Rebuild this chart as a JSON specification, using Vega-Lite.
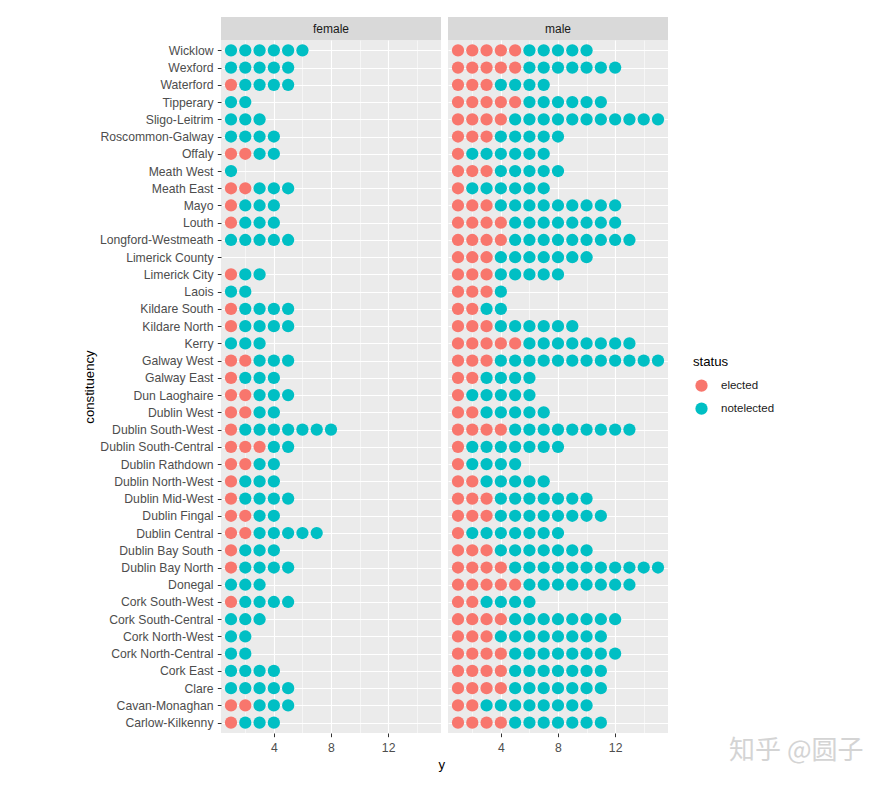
{
"$schema":"https://vega.github.io/schema/vega-lite/v6.json",
"padding":{"left":82,"top":17,"right":5,"bottom":5},
"background":"white",
"config":{"font":"Liberation Sans","view":{"stroke":null},
 "axis":{"labelColor":"#4D4D4D","labelFontSize":12.2,"tickColor":"#333333","tickSize":3.7,"domain":false,"gridColor":"#FFFFFF","labelPadding":4.3},
 "legend":{"titleFontSize":13.2,"titleFontWeight":"normal","titleColor":"#000000","labelFontSize":11.5,"labelColor":"#1A1A1A"}},
"title":{"text":"y","orient":"bottom","anchor":"middle","fontSize":13.2,"fontWeight":"normal","color":"#000000","offset":-4,"dx":-31},
"datasets":{
"female":[
{"c":"Wicklow","y":1,"s":"notelected"},{"c":"Wicklow","y":2,"s":"notelected"},{"c":"Wicklow","y":3,"s":"notelected"},{"c":"Wicklow","y":4,"s":"notelected"},{"c":"Wicklow","y":5,"s":"notelected"},{"c":"Wicklow","y":6,"s":"notelected"},
{"c":"Wexford","y":1,"s":"notelected"},{"c":"Wexford","y":2,"s":"notelected"},{"c":"Wexford","y":3,"s":"notelected"},{"c":"Wexford","y":4,"s":"notelected"},{"c":"Wexford","y":5,"s":"notelected"},
{"c":"Waterford","y":1,"s":"elected"},{"c":"Waterford","y":2,"s":"notelected"},{"c":"Waterford","y":3,"s":"notelected"},{"c":"Waterford","y":4,"s":"notelected"},{"c":"Waterford","y":5,"s":"notelected"},
{"c":"Tipperary","y":1,"s":"notelected"},{"c":"Tipperary","y":2,"s":"notelected"},
{"c":"Sligo-Leitrim","y":1,"s":"notelected"},{"c":"Sligo-Leitrim","y":2,"s":"notelected"},{"c":"Sligo-Leitrim","y":3,"s":"notelected"},
{"c":"Roscommon-Galway","y":1,"s":"notelected"},{"c":"Roscommon-Galway","y":2,"s":"notelected"},{"c":"Roscommon-Galway","y":3,"s":"notelected"},{"c":"Roscommon-Galway","y":4,"s":"notelected"},
{"c":"Offaly","y":1,"s":"elected"},{"c":"Offaly","y":2,"s":"elected"},{"c":"Offaly","y":3,"s":"notelected"},{"c":"Offaly","y":4,"s":"notelected"},
{"c":"Meath West","y":1,"s":"notelected"},
{"c":"Meath East","y":1,"s":"elected"},{"c":"Meath East","y":2,"s":"elected"},{"c":"Meath East","y":3,"s":"notelected"},{"c":"Meath East","y":4,"s":"notelected"},{"c":"Meath East","y":5,"s":"notelected"},
{"c":"Mayo","y":1,"s":"elected"},{"c":"Mayo","y":2,"s":"notelected"},{"c":"Mayo","y":3,"s":"notelected"},{"c":"Mayo","y":4,"s":"notelected"},
{"c":"Louth","y":1,"s":"elected"},{"c":"Louth","y":2,"s":"notelected"},{"c":"Louth","y":3,"s":"notelected"},{"c":"Louth","y":4,"s":"notelected"},
{"c":"Longford-Westmeath","y":1,"s":"notelected"},{"c":"Longford-Westmeath","y":2,"s":"notelected"},{"c":"Longford-Westmeath","y":3,"s":"notelected"},{"c":"Longford-Westmeath","y":4,"s":"notelected"},{"c":"Longford-Westmeath","y":5,"s":"notelected"},
{"c":"Limerick City","y":1,"s":"elected"},{"c":"Limerick City","y":2,"s":"notelected"},{"c":"Limerick City","y":3,"s":"notelected"},
{"c":"Laois","y":1,"s":"notelected"},{"c":"Laois","y":2,"s":"notelected"},
{"c":"Kildare South","y":1,"s":"elected"},{"c":"Kildare South","y":2,"s":"notelected"},{"c":"Kildare South","y":3,"s":"notelected"},{"c":"Kildare South","y":4,"s":"notelected"},{"c":"Kildare South","y":5,"s":"notelected"},
{"c":"Kildare North","y":1,"s":"elected"},{"c":"Kildare North","y":2,"s":"notelected"},{"c":"Kildare North","y":3,"s":"notelected"},{"c":"Kildare North","y":4,"s":"notelected"},{"c":"Kildare North","y":5,"s":"notelected"},
{"c":"Kerry","y":1,"s":"notelected"},{"c":"Kerry","y":2,"s":"notelected"},{"c":"Kerry","y":3,"s":"notelected"},
{"c":"Galway West","y":1,"s":"elected"},{"c":"Galway West","y":2,"s":"elected"},{"c":"Galway West","y":3,"s":"notelected"},{"c":"Galway West","y":4,"s":"notelected"},{"c":"Galway West","y":5,"s":"notelected"},
{"c":"Galway East","y":1,"s":"elected"},{"c":"Galway East","y":2,"s":"notelected"},{"c":"Galway East","y":3,"s":"notelected"},{"c":"Galway East","y":4,"s":"notelected"},
{"c":"Dun Laoghaire","y":1,"s":"elected"},{"c":"Dun Laoghaire","y":2,"s":"elected"},{"c":"Dun Laoghaire","y":3,"s":"notelected"},{"c":"Dun Laoghaire","y":4,"s":"notelected"},{"c":"Dun Laoghaire","y":5,"s":"notelected"},
{"c":"Dublin West","y":1,"s":"elected"},{"c":"Dublin West","y":2,"s":"elected"},{"c":"Dublin West","y":3,"s":"notelected"},{"c":"Dublin West","y":4,"s":"notelected"},
{"c":"Dublin South-West","y":1,"s":"elected"},{"c":"Dublin South-West","y":2,"s":"notelected"},{"c":"Dublin South-West","y":3,"s":"notelected"},{"c":"Dublin South-West","y":4,"s":"notelected"},{"c":"Dublin South-West","y":5,"s":"notelected"},{"c":"Dublin South-West","y":6,"s":"notelected"},{"c":"Dublin South-West","y":7,"s":"notelected"},{"c":"Dublin South-West","y":8,"s":"notelected"},
{"c":"Dublin South-Central","y":1,"s":"elected"},{"c":"Dublin South-Central","y":2,"s":"elected"},{"c":"Dublin South-Central","y":3,"s":"elected"},{"c":"Dublin South-Central","y":4,"s":"notelected"},{"c":"Dublin South-Central","y":5,"s":"notelected"},
{"c":"Dublin Rathdown","y":1,"s":"elected"},{"c":"Dublin Rathdown","y":2,"s":"elected"},{"c":"Dublin Rathdown","y":3,"s":"notelected"},{"c":"Dublin Rathdown","y":4,"s":"notelected"},
{"c":"Dublin North-West","y":1,"s":"elected"},{"c":"Dublin North-West","y":2,"s":"notelected"},{"c":"Dublin North-West","y":3,"s":"notelected"},{"c":"Dublin North-West","y":4,"s":"notelected"},
{"c":"Dublin Mid-West","y":1,"s":"elected"},{"c":"Dublin Mid-West","y":2,"s":"notelected"},{"c":"Dublin Mid-West","y":3,"s":"notelected"},{"c":"Dublin Mid-West","y":4,"s":"notelected"},{"c":"Dublin Mid-West","y":5,"s":"notelected"},
{"c":"Dublin Fingal","y":1,"s":"elected"},{"c":"Dublin Fingal","y":2,"s":"elected"},{"c":"Dublin Fingal","y":3,"s":"notelected"},{"c":"Dublin Fingal","y":4,"s":"notelected"},
{"c":"Dublin Central","y":1,"s":"elected"},{"c":"Dublin Central","y":2,"s":"elected"},{"c":"Dublin Central","y":3,"s":"notelected"},{"c":"Dublin Central","y":4,"s":"notelected"},{"c":"Dublin Central","y":5,"s":"notelected"},{"c":"Dublin Central","y":6,"s":"notelected"},{"c":"Dublin Central","y":7,"s":"notelected"},
{"c":"Dublin Bay South","y":1,"s":"elected"},{"c":"Dublin Bay South","y":2,"s":"notelected"},{"c":"Dublin Bay South","y":3,"s":"notelected"},{"c":"Dublin Bay South","y":4,"s":"notelected"},
{"c":"Dublin Bay North","y":1,"s":"elected"},{"c":"Dublin Bay North","y":2,"s":"notelected"},{"c":"Dublin Bay North","y":3,"s":"notelected"},{"c":"Dublin Bay North","y":4,"s":"notelected"},{"c":"Dublin Bay North","y":5,"s":"notelected"},
{"c":"Donegal","y":1,"s":"notelected"},{"c":"Donegal","y":2,"s":"notelected"},{"c":"Donegal","y":3,"s":"notelected"},
{"c":"Cork South-West","y":1,"s":"elected"},{"c":"Cork South-West","y":2,"s":"notelected"},{"c":"Cork South-West","y":3,"s":"notelected"},{"c":"Cork South-West","y":4,"s":"notelected"},{"c":"Cork South-West","y":5,"s":"notelected"},
{"c":"Cork South-Central","y":1,"s":"notelected"},{"c":"Cork South-Central","y":2,"s":"notelected"},{"c":"Cork South-Central","y":3,"s":"notelected"},
{"c":"Cork North-West","y":1,"s":"notelected"},{"c":"Cork North-West","y":2,"s":"notelected"},
{"c":"Cork North-Central","y":1,"s":"notelected"},{"c":"Cork North-Central","y":2,"s":"notelected"},
{"c":"Cork East","y":1,"s":"notelected"},{"c":"Cork East","y":2,"s":"notelected"},{"c":"Cork East","y":3,"s":"notelected"},{"c":"Cork East","y":4,"s":"notelected"},
{"c":"Clare","y":1,"s":"notelected"},{"c":"Clare","y":2,"s":"notelected"},{"c":"Clare","y":3,"s":"notelected"},{"c":"Clare","y":4,"s":"notelected"},{"c":"Clare","y":5,"s":"notelected"},
{"c":"Cavan-Monaghan","y":1,"s":"elected"},{"c":"Cavan-Monaghan","y":2,"s":"elected"},{"c":"Cavan-Monaghan","y":3,"s":"notelected"},{"c":"Cavan-Monaghan","y":4,"s":"notelected"},{"c":"Cavan-Monaghan","y":5,"s":"notelected"},
{"c":"Carlow-Kilkenny","y":1,"s":"elected"},{"c":"Carlow-Kilkenny","y":2,"s":"notelected"},{"c":"Carlow-Kilkenny","y":3,"s":"notelected"},{"c":"Carlow-Kilkenny","y":4,"s":"notelected"}
],
"male":[
{"c":"Wicklow","y":1,"s":"elected"},{"c":"Wicklow","y":2,"s":"elected"},{"c":"Wicklow","y":3,"s":"elected"},{"c":"Wicklow","y":4,"s":"elected"},{"c":"Wicklow","y":5,"s":"elected"},{"c":"Wicklow","y":6,"s":"notelected"},{"c":"Wicklow","y":7,"s":"notelected"},{"c":"Wicklow","y":8,"s":"notelected"},{"c":"Wicklow","y":9,"s":"notelected"},{"c":"Wicklow","y":10,"s":"notelected"},
{"c":"Wexford","y":1,"s":"elected"},{"c":"Wexford","y":2,"s":"elected"},{"c":"Wexford","y":3,"s":"elected"},{"c":"Wexford","y":4,"s":"elected"},{"c":"Wexford","y":5,"s":"elected"},{"c":"Wexford","y":6,"s":"notelected"},{"c":"Wexford","y":7,"s":"notelected"},{"c":"Wexford","y":8,"s":"notelected"},{"c":"Wexford","y":9,"s":"notelected"},{"c":"Wexford","y":10,"s":"notelected"},{"c":"Wexford","y":11,"s":"notelected"},{"c":"Wexford","y":12,"s":"notelected"},
{"c":"Waterford","y":1,"s":"elected"},{"c":"Waterford","y":2,"s":"elected"},{"c":"Waterford","y":3,"s":"elected"},{"c":"Waterford","y":4,"s":"notelected"},{"c":"Waterford","y":5,"s":"notelected"},{"c":"Waterford","y":6,"s":"notelected"},{"c":"Waterford","y":7,"s":"notelected"},
{"c":"Tipperary","y":1,"s":"elected"},{"c":"Tipperary","y":2,"s":"elected"},{"c":"Tipperary","y":3,"s":"elected"},{"c":"Tipperary","y":4,"s":"elected"},{"c":"Tipperary","y":5,"s":"elected"},{"c":"Tipperary","y":6,"s":"notelected"},{"c":"Tipperary","y":7,"s":"notelected"},{"c":"Tipperary","y":8,"s":"notelected"},{"c":"Tipperary","y":9,"s":"notelected"},{"c":"Tipperary","y":10,"s":"notelected"},{"c":"Tipperary","y":11,"s":"notelected"},
{"c":"Sligo-Leitrim","y":1,"s":"elected"},{"c":"Sligo-Leitrim","y":2,"s":"elected"},{"c":"Sligo-Leitrim","y":3,"s":"elected"},{"c":"Sligo-Leitrim","y":4,"s":"elected"},{"c":"Sligo-Leitrim","y":5,"s":"notelected"},{"c":"Sligo-Leitrim","y":6,"s":"notelected"},{"c":"Sligo-Leitrim","y":7,"s":"notelected"},{"c":"Sligo-Leitrim","y":8,"s":"notelected"},{"c":"Sligo-Leitrim","y":9,"s":"notelected"},{"c":"Sligo-Leitrim","y":10,"s":"notelected"},{"c":"Sligo-Leitrim","y":11,"s":"notelected"},{"c":"Sligo-Leitrim","y":12,"s":"notelected"},{"c":"Sligo-Leitrim","y":13,"s":"notelected"},{"c":"Sligo-Leitrim","y":14,"s":"notelected"},{"c":"Sligo-Leitrim","y":15,"s":"notelected"},
{"c":"Roscommon-Galway","y":1,"s":"elected"},{"c":"Roscommon-Galway","y":2,"s":"elected"},{"c":"Roscommon-Galway","y":3,"s":"elected"},{"c":"Roscommon-Galway","y":4,"s":"notelected"},{"c":"Roscommon-Galway","y":5,"s":"notelected"},{"c":"Roscommon-Galway","y":6,"s":"notelected"},{"c":"Roscommon-Galway","y":7,"s":"notelected"},{"c":"Roscommon-Galway","y":8,"s":"notelected"},
{"c":"Offaly","y":1,"s":"elected"},{"c":"Offaly","y":2,"s":"notelected"},{"c":"Offaly","y":3,"s":"notelected"},{"c":"Offaly","y":4,"s":"notelected"},{"c":"Offaly","y":5,"s":"notelected"},{"c":"Offaly","y":6,"s":"notelected"},{"c":"Offaly","y":7,"s":"notelected"},
{"c":"Meath West","y":1,"s":"elected"},{"c":"Meath West","y":2,"s":"elected"},{"c":"Meath West","y":3,"s":"elected"},{"c":"Meath West","y":4,"s":"notelected"},{"c":"Meath West","y":5,"s":"notelected"},{"c":"Meath West","y":6,"s":"notelected"},{"c":"Meath West","y":7,"s":"notelected"},{"c":"Meath West","y":8,"s":"notelected"},
{"c":"Meath East","y":1,"s":"elected"},{"c":"Meath East","y":2,"s":"notelected"},{"c":"Meath East","y":3,"s":"notelected"},{"c":"Meath East","y":4,"s":"notelected"},{"c":"Meath East","y":5,"s":"notelected"},{"c":"Meath East","y":6,"s":"notelected"},{"c":"Meath East","y":7,"s":"notelected"},
{"c":"Mayo","y":1,"s":"elected"},{"c":"Mayo","y":2,"s":"elected"},{"c":"Mayo","y":3,"s":"elected"},{"c":"Mayo","y":4,"s":"notelected"},{"c":"Mayo","y":5,"s":"notelected"},{"c":"Mayo","y":6,"s":"notelected"},{"c":"Mayo","y":7,"s":"notelected"},{"c":"Mayo","y":8,"s":"notelected"},{"c":"Mayo","y":9,"s":"notelected"},{"c":"Mayo","y":10,"s":"notelected"},{"c":"Mayo","y":11,"s":"notelected"},{"c":"Mayo","y":12,"s":"notelected"},
{"c":"Louth","y":1,"s":"elected"},{"c":"Louth","y":2,"s":"elected"},{"c":"Louth","y":3,"s":"elected"},{"c":"Louth","y":4,"s":"elected"},{"c":"Louth","y":5,"s":"notelected"},{"c":"Louth","y":6,"s":"notelected"},{"c":"Louth","y":7,"s":"notelected"},{"c":"Louth","y":8,"s":"notelected"},{"c":"Louth","y":9,"s":"notelected"},{"c":"Louth","y":10,"s":"notelected"},{"c":"Louth","y":11,"s":"notelected"},{"c":"Louth","y":12,"s":"notelected"},
{"c":"Longford-Westmeath","y":1,"s":"elected"},{"c":"Longford-Westmeath","y":2,"s":"elected"},{"c":"Longford-Westmeath","y":3,"s":"elected"},{"c":"Longford-Westmeath","y":4,"s":"elected"},{"c":"Longford-Westmeath","y":5,"s":"notelected"},{"c":"Longford-Westmeath","y":6,"s":"notelected"},{"c":"Longford-Westmeath","y":7,"s":"notelected"},{"c":"Longford-Westmeath","y":8,"s":"notelected"},{"c":"Longford-Westmeath","y":9,"s":"notelected"},{"c":"Longford-Westmeath","y":10,"s":"notelected"},{"c":"Longford-Westmeath","y":11,"s":"notelected"},{"c":"Longford-Westmeath","y":12,"s":"notelected"},{"c":"Longford-Westmeath","y":13,"s":"notelected"},
{"c":"Limerick County","y":1,"s":"elected"},{"c":"Limerick County","y":2,"s":"elected"},{"c":"Limerick County","y":3,"s":"elected"},{"c":"Limerick County","y":4,"s":"notelected"},{"c":"Limerick County","y":5,"s":"notelected"},{"c":"Limerick County","y":6,"s":"notelected"},{"c":"Limerick County","y":7,"s":"notelected"},{"c":"Limerick County","y":8,"s":"notelected"},{"c":"Limerick County","y":9,"s":"notelected"},{"c":"Limerick County","y":10,"s":"notelected"},
{"c":"Limerick City","y":1,"s":"elected"},{"c":"Limerick City","y":2,"s":"elected"},{"c":"Limerick City","y":3,"s":"elected"},{"c":"Limerick City","y":4,"s":"notelected"},{"c":"Limerick City","y":5,"s":"notelected"},{"c":"Limerick City","y":6,"s":"notelected"},{"c":"Limerick City","y":7,"s":"notelected"},{"c":"Limerick City","y":8,"s":"notelected"},
{"c":"Laois","y":1,"s":"elected"},{"c":"Laois","y":2,"s":"elected"},{"c":"Laois","y":3,"s":"elected"},{"c":"Laois","y":4,"s":"notelected"},
{"c":"Kildare South","y":1,"s":"elected"},{"c":"Kildare South","y":2,"s":"elected"},{"c":"Kildare South","y":3,"s":"notelected"},{"c":"Kildare South","y":4,"s":"notelected"},
{"c":"Kildare North","y":1,"s":"elected"},{"c":"Kildare North","y":2,"s":"elected"},{"c":"Kildare North","y":3,"s":"elected"},{"c":"Kildare North","y":4,"s":"notelected"},{"c":"Kildare North","y":5,"s":"notelected"},{"c":"Kildare North","y":6,"s":"notelected"},{"c":"Kildare North","y":7,"s":"notelected"},{"c":"Kildare North","y":8,"s":"notelected"},{"c":"Kildare North","y":9,"s":"notelected"},
{"c":"Kerry","y":1,"s":"elected"},{"c":"Kerry","y":2,"s":"elected"},{"c":"Kerry","y":3,"s":"elected"},{"c":"Kerry","y":4,"s":"elected"},{"c":"Kerry","y":5,"s":"elected"},{"c":"Kerry","y":6,"s":"notelected"},{"c":"Kerry","y":7,"s":"notelected"},{"c":"Kerry","y":8,"s":"notelected"},{"c":"Kerry","y":9,"s":"notelected"},{"c":"Kerry","y":10,"s":"notelected"},{"c":"Kerry","y":11,"s":"notelected"},{"c":"Kerry","y":12,"s":"notelected"},{"c":"Kerry","y":13,"s":"notelected"},
{"c":"Galway West","y":1,"s":"elected"},{"c":"Galway West","y":2,"s":"elected"},{"c":"Galway West","y":3,"s":"elected"},{"c":"Galway West","y":4,"s":"notelected"},{"c":"Galway West","y":5,"s":"notelected"},{"c":"Galway West","y":6,"s":"notelected"},{"c":"Galway West","y":7,"s":"notelected"},{"c":"Galway West","y":8,"s":"notelected"},{"c":"Galway West","y":9,"s":"notelected"},{"c":"Galway West","y":10,"s":"notelected"},{"c":"Galway West","y":11,"s":"notelected"},{"c":"Galway West","y":12,"s":"notelected"},{"c":"Galway West","y":13,"s":"notelected"},{"c":"Galway West","y":14,"s":"notelected"},{"c":"Galway West","y":15,"s":"notelected"},
{"c":"Galway East","y":1,"s":"elected"},{"c":"Galway East","y":2,"s":"elected"},{"c":"Galway East","y":3,"s":"notelected"},{"c":"Galway East","y":4,"s":"notelected"},{"c":"Galway East","y":5,"s":"notelected"},{"c":"Galway East","y":6,"s":"notelected"},
{"c":"Dun Laoghaire","y":1,"s":"elected"},{"c":"Dun Laoghaire","y":2,"s":"notelected"},{"c":"Dun Laoghaire","y":3,"s":"notelected"},{"c":"Dun Laoghaire","y":4,"s":"notelected"},{"c":"Dun Laoghaire","y":5,"s":"notelected"},{"c":"Dun Laoghaire","y":6,"s":"notelected"},
{"c":"Dublin West","y":1,"s":"elected"},{"c":"Dublin West","y":2,"s":"elected"},{"c":"Dublin West","y":3,"s":"notelected"},{"c":"Dublin West","y":4,"s":"notelected"},{"c":"Dublin West","y":5,"s":"notelected"},{"c":"Dublin West","y":6,"s":"notelected"},{"c":"Dublin West","y":7,"s":"notelected"},
{"c":"Dublin South-West","y":1,"s":"elected"},{"c":"Dublin South-West","y":2,"s":"elected"},{"c":"Dublin South-West","y":3,"s":"elected"},{"c":"Dublin South-West","y":4,"s":"elected"},{"c":"Dublin South-West","y":5,"s":"notelected"},{"c":"Dublin South-West","y":6,"s":"notelected"},{"c":"Dublin South-West","y":7,"s":"notelected"},{"c":"Dublin South-West","y":8,"s":"notelected"},{"c":"Dublin South-West","y":9,"s":"notelected"},{"c":"Dublin South-West","y":10,"s":"notelected"},{"c":"Dublin South-West","y":11,"s":"notelected"},{"c":"Dublin South-West","y":12,"s":"notelected"},{"c":"Dublin South-West","y":13,"s":"notelected"},
{"c":"Dublin South-Central","y":1,"s":"elected"},{"c":"Dublin South-Central","y":2,"s":"notelected"},{"c":"Dublin South-Central","y":3,"s":"notelected"},{"c":"Dublin South-Central","y":4,"s":"notelected"},{"c":"Dublin South-Central","y":5,"s":"notelected"},{"c":"Dublin South-Central","y":6,"s":"notelected"},{"c":"Dublin South-Central","y":7,"s":"notelected"},{"c":"Dublin South-Central","y":8,"s":"notelected"},
{"c":"Dublin Rathdown","y":1,"s":"elected"},{"c":"Dublin Rathdown","y":2,"s":"notelected"},{"c":"Dublin Rathdown","y":3,"s":"notelected"},{"c":"Dublin Rathdown","y":4,"s":"notelected"},{"c":"Dublin Rathdown","y":5,"s":"notelected"},
{"c":"Dublin North-West","y":1,"s":"elected"},{"c":"Dublin North-West","y":2,"s":"elected"},{"c":"Dublin North-West","y":3,"s":"notelected"},{"c":"Dublin North-West","y":4,"s":"notelected"},{"c":"Dublin North-West","y":5,"s":"notelected"},{"c":"Dublin North-West","y":6,"s":"notelected"},{"c":"Dublin North-West","y":7,"s":"notelected"},
{"c":"Dublin Mid-West","y":1,"s":"elected"},{"c":"Dublin Mid-West","y":2,"s":"elected"},{"c":"Dublin Mid-West","y":3,"s":"elected"},{"c":"Dublin Mid-West","y":4,"s":"notelected"},{"c":"Dublin Mid-West","y":5,"s":"notelected"},{"c":"Dublin Mid-West","y":6,"s":"notelected"},{"c":"Dublin Mid-West","y":7,"s":"notelected"},{"c":"Dublin Mid-West","y":8,"s":"notelected"},{"c":"Dublin Mid-West","y":9,"s":"notelected"},{"c":"Dublin Mid-West","y":10,"s":"notelected"},
{"c":"Dublin Fingal","y":1,"s":"elected"},{"c":"Dublin Fingal","y":2,"s":"elected"},{"c":"Dublin Fingal","y":3,"s":"elected"},{"c":"Dublin Fingal","y":4,"s":"notelected"},{"c":"Dublin Fingal","y":5,"s":"notelected"},{"c":"Dublin Fingal","y":6,"s":"notelected"},{"c":"Dublin Fingal","y":7,"s":"notelected"},{"c":"Dublin Fingal","y":8,"s":"notelected"},{"c":"Dublin Fingal","y":9,"s":"notelected"},{"c":"Dublin Fingal","y":10,"s":"notelected"},{"c":"Dublin Fingal","y":11,"s":"notelected"},
{"c":"Dublin Central","y":1,"s":"elected"},{"c":"Dublin Central","y":2,"s":"notelected"},{"c":"Dublin Central","y":3,"s":"notelected"},{"c":"Dublin Central","y":4,"s":"notelected"},{"c":"Dublin Central","y":5,"s":"notelected"},{"c":"Dublin Central","y":6,"s":"notelected"},{"c":"Dublin Central","y":7,"s":"notelected"},{"c":"Dublin Central","y":8,"s":"notelected"},
{"c":"Dublin Bay South","y":1,"s":"elected"},{"c":"Dublin Bay South","y":2,"s":"elected"},{"c":"Dublin Bay South","y":3,"s":"elected"},{"c":"Dublin Bay South","y":4,"s":"notelected"},{"c":"Dublin Bay South","y":5,"s":"notelected"},{"c":"Dublin Bay South","y":6,"s":"notelected"},{"c":"Dublin Bay South","y":7,"s":"notelected"},{"c":"Dublin Bay South","y":8,"s":"notelected"},{"c":"Dublin Bay South","y":9,"s":"notelected"},{"c":"Dublin Bay South","y":10,"s":"notelected"},
{"c":"Dublin Bay North","y":1,"s":"elected"},{"c":"Dublin Bay North","y":2,"s":"elected"},{"c":"Dublin Bay North","y":3,"s":"elected"},{"c":"Dublin Bay North","y":4,"s":"elected"},{"c":"Dublin Bay North","y":5,"s":"notelected"},{"c":"Dublin Bay North","y":6,"s":"notelected"},{"c":"Dublin Bay North","y":7,"s":"notelected"},{"c":"Dublin Bay North","y":8,"s":"notelected"},{"c":"Dublin Bay North","y":9,"s":"notelected"},{"c":"Dublin Bay North","y":10,"s":"notelected"},{"c":"Dublin Bay North","y":11,"s":"notelected"},{"c":"Dublin Bay North","y":12,"s":"notelected"},{"c":"Dublin Bay North","y":13,"s":"notelected"},{"c":"Dublin Bay North","y":14,"s":"notelected"},{"c":"Dublin Bay North","y":15,"s":"notelected"},
{"c":"Donegal","y":1,"s":"elected"},{"c":"Donegal","y":2,"s":"elected"},{"c":"Donegal","y":3,"s":"elected"},{"c":"Donegal","y":4,"s":"elected"},{"c":"Donegal","y":5,"s":"elected"},{"c":"Donegal","y":6,"s":"notelected"},{"c":"Donegal","y":7,"s":"notelected"},{"c":"Donegal","y":8,"s":"notelected"},{"c":"Donegal","y":9,"s":"notelected"},{"c":"Donegal","y":10,"s":"notelected"},{"c":"Donegal","y":11,"s":"notelected"},{"c":"Donegal","y":12,"s":"notelected"},{"c":"Donegal","y":13,"s":"notelected"},
{"c":"Cork South-West","y":1,"s":"elected"},{"c":"Cork South-West","y":2,"s":"elected"},{"c":"Cork South-West","y":3,"s":"notelected"},{"c":"Cork South-West","y":4,"s":"notelected"},{"c":"Cork South-West","y":5,"s":"notelected"},{"c":"Cork South-West","y":6,"s":"notelected"},
{"c":"Cork South-Central","y":1,"s":"elected"},{"c":"Cork South-Central","y":2,"s":"elected"},{"c":"Cork South-Central","y":3,"s":"elected"},{"c":"Cork South-Central","y":4,"s":"elected"},{"c":"Cork South-Central","y":5,"s":"notelected"},{"c":"Cork South-Central","y":6,"s":"notelected"},{"c":"Cork South-Central","y":7,"s":"notelected"},{"c":"Cork South-Central","y":8,"s":"notelected"},{"c":"Cork South-Central","y":9,"s":"notelected"},{"c":"Cork South-Central","y":10,"s":"notelected"},{"c":"Cork South-Central","y":11,"s":"notelected"},{"c":"Cork South-Central","y":12,"s":"notelected"},
{"c":"Cork North-West","y":1,"s":"elected"},{"c":"Cork North-West","y":2,"s":"elected"},{"c":"Cork North-West","y":3,"s":"elected"},{"c":"Cork North-West","y":4,"s":"notelected"},{"c":"Cork North-West","y":5,"s":"notelected"},{"c":"Cork North-West","y":6,"s":"notelected"},{"c":"Cork North-West","y":7,"s":"notelected"},{"c":"Cork North-West","y":8,"s":"notelected"},{"c":"Cork North-West","y":9,"s":"notelected"},{"c":"Cork North-West","y":10,"s":"notelected"},{"c":"Cork North-West","y":11,"s":"notelected"},
{"c":"Cork North-Central","y":1,"s":"elected"},{"c":"Cork North-Central","y":2,"s":"elected"},{"c":"Cork North-Central","y":3,"s":"elected"},{"c":"Cork North-Central","y":4,"s":"elected"},{"c":"Cork North-Central","y":5,"s":"notelected"},{"c":"Cork North-Central","y":6,"s":"notelected"},{"c":"Cork North-Central","y":7,"s":"notelected"},{"c":"Cork North-Central","y":8,"s":"notelected"},{"c":"Cork North-Central","y":9,"s":"notelected"},{"c":"Cork North-Central","y":10,"s":"notelected"},{"c":"Cork North-Central","y":11,"s":"notelected"},{"c":"Cork North-Central","y":12,"s":"notelected"},
{"c":"Cork East","y":1,"s":"elected"},{"c":"Cork East","y":2,"s":"elected"},{"c":"Cork East","y":3,"s":"elected"},{"c":"Cork East","y":4,"s":"elected"},{"c":"Cork East","y":5,"s":"notelected"},{"c":"Cork East","y":6,"s":"notelected"},{"c":"Cork East","y":7,"s":"notelected"},{"c":"Cork East","y":8,"s":"notelected"},{"c":"Cork East","y":9,"s":"notelected"},{"c":"Cork East","y":10,"s":"notelected"},{"c":"Cork East","y":11,"s":"notelected"},
{"c":"Clare","y":1,"s":"elected"},{"c":"Clare","y":2,"s":"elected"},{"c":"Clare","y":3,"s":"elected"},{"c":"Clare","y":4,"s":"elected"},{"c":"Clare","y":5,"s":"notelected"},{"c":"Clare","y":6,"s":"notelected"},{"c":"Clare","y":7,"s":"notelected"},{"c":"Clare","y":8,"s":"notelected"},{"c":"Clare","y":9,"s":"notelected"},{"c":"Clare","y":10,"s":"notelected"},{"c":"Clare","y":11,"s":"notelected"},
{"c":"Cavan-Monaghan","y":1,"s":"elected"},{"c":"Cavan-Monaghan","y":2,"s":"elected"},{"c":"Cavan-Monaghan","y":3,"s":"notelected"},{"c":"Cavan-Monaghan","y":4,"s":"notelected"},{"c":"Cavan-Monaghan","y":5,"s":"notelected"},{"c":"Cavan-Monaghan","y":6,"s":"notelected"},{"c":"Cavan-Monaghan","y":7,"s":"notelected"},{"c":"Cavan-Monaghan","y":8,"s":"notelected"},{"c":"Cavan-Monaghan","y":9,"s":"notelected"},{"c":"Cavan-Monaghan","y":10,"s":"notelected"},
{"c":"Carlow-Kilkenny","y":1,"s":"elected"},{"c":"Carlow-Kilkenny","y":2,"s":"elected"},{"c":"Carlow-Kilkenny","y":3,"s":"elected"},{"c":"Carlow-Kilkenny","y":4,"s":"elected"},{"c":"Carlow-Kilkenny","y":5,"s":"notelected"},{"c":"Carlow-Kilkenny","y":6,"s":"notelected"},{"c":"Carlow-Kilkenny","y":7,"s":"notelected"},{"c":"Carlow-Kilkenny","y":8,"s":"notelected"},{"c":"Carlow-Kilkenny","y":9,"s":"notelected"},{"c":"Carlow-Kilkenny","y":10,"s":"notelected"},{"c":"Carlow-Kilkenny","y":11,"s":"notelected"}
]},
"columns":2,
"spacing":{"row":0,"column":7},
"bounds":"flush",
"resolve":{"scale":{"color":"shared"},"legend":{"color":"shared"}},
"concat":[
{"width":220,"height":23,"view":{"fill":"#D9D9D9","stroke":null},"data":{"values":[{"g":"female"}]},"mark":{"type":"text","fontSize":12,"color":"#1A1A1A"},"encoding":{"text":{"field":"g","type":"nominal"}}},
{"width":220,"height":23,"view":{"fill":"#D9D9D9","stroke":null},"data":{"values":[{"g":"male"}]},"mark":{"type":"text","fontSize":12,"color":"#1A1A1A"},"encoding":{"text":{"field":"g","type":"nominal"}}},
{"width":220,"height":693,"view":{"fill":"#EBEBEB","stroke":null},"data":{"name":"female"},
 "mark":{"type":"circle","size":150,"opacity":1},
 "encoding":{
  "x":{"field":"y","type":"quantitative","scale":{"domain":[0.3,15.7],"nice":false,"zero":false},
   "axis":{"title":null,"values":[2,4,6,8,10,12,14],"labelExpr":"datum.value % 4 === 0 ? datum.label : ''","gridWidth":{"condition":{"test":"datum.value % 4 === 0","value":1.1},"value":0.55},"tickOpacity":{"condition":{"test":"datum.value % 4 === 0","value":1},"value":0}}},
  "y":{"field":"c","type":"nominal","scale":{"type":"point","padding":0.6,"domain":["Wicklow","Wexford","Waterford","Tipperary","Sligo-Leitrim","Roscommon-Galway","Offaly","Meath West","Meath East","Mayo","Louth","Longford-Westmeath","Limerick County","Limerick City","Laois","Kildare South","Kildare North","Kerry","Galway West","Galway East","Dun Laoghaire","Dublin West","Dublin South-West","Dublin South-Central","Dublin Rathdown","Dublin North-West","Dublin Mid-West","Dublin Fingal","Dublin Central","Dublin Bay South","Dublin Bay North","Donegal","Cork South-West","Cork South-Central","Cork North-West","Cork North-Central","Cork East","Clare","Cavan-Monaghan","Carlow-Kilkenny"]},
   "axis":{"title":"constituency","titleFontSize":13.2,"titleFontWeight":"normal","titleColor":"#000000","titlePadding":3,"grid":true,"gridWidth":1.1}},
  "color":{"field":"s","type":"nominal","scale":{"domain":["elected","notelected"],"range":["#F8766D","#00BFC4"]},
   "legend":{"title":"status","orient":"none","legendX":472,"legendY":339,"symbolType":"circle","symbolSize":150,"symbolStrokeWidth":0,"symbolOpacity":1,"labelOffset":13,"symbolOffset":2,"rowPadding":10,"titlePadding":10,"padding":0}}
 }},
{"width":220,"height":693,"view":{"fill":"#EBEBEB","stroke":null},"data":{"name":"male"},
 "mark":{"type":"circle","size":150,"opacity":1},
 "encoding":{
  "x":{"field":"y","type":"quantitative","scale":{"domain":[0.3,15.7],"nice":false,"zero":false},
   "axis":{"title":"知乎 @圆子","titleFont":"Noto Sans CJK SC","titleFontSize":26,"titleFontWeight":"normal","titleColor":"#D4D4D4","titleAnchor":"end","titleAlign":"right","titleX":415,"titleY":17,"titleBaseline":"middle","values":[2,4,6,8,10,12,14],"labelExpr":"datum.value % 4 === 0 ? datum.label : ''","gridWidth":{"condition":{"test":"datum.value % 4 === 0","value":1.1},"value":0.55},"tickOpacity":{"condition":{"test":"datum.value % 4 === 0","value":1},"value":0}}},
  "y":{"field":"c","type":"nominal","scale":{"type":"point","padding":0.6,"domain":["Wicklow","Wexford","Waterford","Tipperary","Sligo-Leitrim","Roscommon-Galway","Offaly","Meath West","Meath East","Mayo","Louth","Longford-Westmeath","Limerick County","Limerick City","Laois","Kildare South","Kildare North","Kerry","Galway West","Galway East","Dun Laoghaire","Dublin West","Dublin South-West","Dublin South-Central","Dublin Rathdown","Dublin North-West","Dublin Mid-West","Dublin Fingal","Dublin Central","Dublin Bay South","Dublin Bay North","Donegal","Cork South-West","Cork South-Central","Cork North-West","Cork North-Central","Cork East","Clare","Cavan-Monaghan","Carlow-Kilkenny"]},
   "axis":{"title":null,"labels":false,"ticks":false,"grid":true,"gridWidth":1.1}},
  "color":{"field":"s","type":"nominal","scale":{"domain":["elected","notelected"],"range":["#F8766D","#00BFC4"]}}
 }}
]
}
